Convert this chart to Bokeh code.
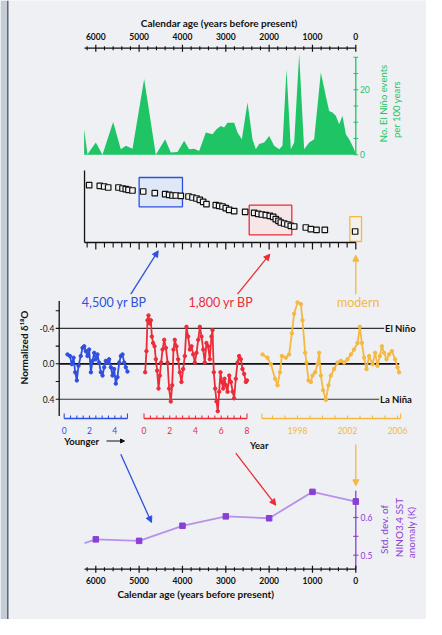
import math
from bokeh.plotting import figure
from bokeh.models import Range1d, Arrow, NormalHead
from bokeh.core.properties import value
from bokeh.embed import file_html
from bokeh.resources import INLINE

# ---------------- data ----------------
# El Nino events per 100 years vs calendar age (yr BP)
enso_age = [6269, 6192, 6000, 5846, 5600, 5423, 5307, 5153, 4884, 4615,
            4400, 4269, 4115, 3961, 3846, 3730, 3615, 3461, 3307, 3215,
            3115, 3038, 2961, 2807, 2730, 2630, 2499, 2384, 2307, 2230,
            2115, 1999, 1884, 1768, 1692, 1599, 1499, 1422, 1307, 1192,
            1076, 961, 807, 692, 615, 538, 461, 384, 307, 230,
            153, 38, 0]
enso_count = [7.9, 0.2, 3.8, 0, 10.1, 1.7, 2.8, 1.9, 23.3, 0,
              4.8, 0.7, 0.9, 4.3, 1.7, 1.9, 1.2, 6.9, 6.3, 7.9,
              8.9, 8.4, 9.9, 9.9, 6.9, 4.8, 16.1, 4.8, 1.7, 3.3,
              3.8, 5.8, 2.8, 1.7, 2.8, 26.3, 1.7, 3.8, 31.0, 1.7,
              3.8, 4.8, 25.3, 18.1, 13.5, 13.0, 12.0, 9.4, 12.0, 6.3,
              4.8, 1.7, 0]

# age model points (age vs depth, arbitrary units)
core_age = [6153, 5908, 5807, 5714, 5477, 5384, 5308, 5246, 5154, 4907,
            4639, 4399, 4307, 4230, 4154, 4039, 3861, 3769, 3677, 3600,
            3522, 3446, 3231, 3153, 3076, 3000, 2922, 2807, 2553, 2345,
            2253, 2169, 2077, 1985, 1907, 1846, 1784, 1731, 1653, 1576,
            1500, 1422, 1154, 1038, 907, 715, 15]
core_depth = [7.96, 7.87, 7.78, 7.64, 7.64, 7.5, 7.4, 7.31, 7.22, 7.08,
              6.85, 6.71, 6.62, 6.53, 6.53, 6.48, 6.39, 6.25, 6.11, 5.93,
              5.65, 5.32, 5.18, 5.09, 5.0, 4.77, 4.54, 4.35, 4.26, 4.12,
              3.98, 3.89, 3.80, 3.70, 3.56, 3.24, 3.01, 2.78, 2.64, 2.5,
              2.31, 2.22, 2.08, 1.85, 1.76, 1.76, 1.53]
win_4500 = (5000, 4000, 9.03, 4.96)
win_1800 = (2460, 1477, 5.18, 1.07)
win_modern = (138, -132, 3.6, 0.14)

# normalized d18O records
blue_t = [0.26, 0.45, 0.60, 0.74, 0.87, 1.0, 1.13, 1.31, 1.45, 1.58,
          1.71, 1.84, 1.97, 2.11, 2.24, 2.37, 2.50, 2.63, 2.76, 2.90,
          3.03, 3.16, 3.29, 3.42, 3.55, 3.69, 3.82, 3.95, 4.08, 4.21,
          4.35, 4.48, 4.61, 4.74, 4.87, 5.0]
blue_v = [-0.106, -0.088, 0.004, -0.069, 0.096, 0.188, 0.022, -0.088, -0.18, -0.198,
          -0.143, -0.088, -0.161, 0.096, -0.033, -0.124, -0.051, -0.106, -0.014, 0.096,
          0.133, 0.04, -0.033, -0.014, -0.051, 0.04, 0.133, 0.059, 0.224, 0.151,
          -0.014, -0.088, -0.106, -0.014, 0.04, 0.088]
red_t = [0.09, 0.19, 0.27, 0.35, 0.45, 0.53, 0.61, 0.71, 0.82, 0.92,
         1.02, 1.13, 1.23, 1.33, 1.44, 1.57, 1.70, 1.83, 1.95, 2.08,
         2.19, 2.29, 2.39, 2.52, 2.65, 2.78, 2.91, 3.04, 3.17, 3.30,
         3.43, 3.56, 3.69, 3.82, 3.95, 4.08, 4.21, 4.34, 4.47, 4.60,
         4.72, 4.85, 4.98, 5.11, 5.24, 5.32, 5.42, 5.53, 5.63, 5.73,
         5.84, 5.94, 6.05, 6.15, 6.25, 6.36, 6.49, 6.62, 6.75, 6.89,
         7.00, 7.13, 7.26, 7.39, 7.52, 7.65, 7.78, 7.91, 8.0]
red_v = [0.096, -0.143, -0.492, -0.547, -0.455, -0.492, -0.308, -0.235, -0.198, -0.051,
         0.077, 0.28, 0.133, -0.014, -0.161, -0.271, -0.18, -0.014, 0.28, 0.426,
         0.243, -0.161, -0.271, -0.198, -0.051, 0.096, 0.206, 0.059, -0.088, -0.418,
         -0.308, -0.161, -0.198, -0.106, -0.014, -0.124, -0.271, -0.418, -0.308, -0.161,
         -0.014, -0.235, -0.198, -0.051, -0.308, -0.381, 0.096, 0.28, 0.426, 0.536,
         0.316, 0.096, 0.206, 0.28, 0.169, 0.243, 0.316, 0.133, 0.206, 0.316,
         0.39, 0.169, -0.014, -0.088, -0.051, 0.059, 0.114, 0.206, 0.188]
orange_t = [1995.2, 1995.6, 1995.87, 1996.21, 1996.4, 1996.59, 1996.75, 1997.07, 1997.33, 1997.55,
            1997.73, 1998.0, 1998.27, 1998.4, 1998.61, 1998.72, 1998.88, 1999.07, 1999.2, 1999.41,
            1999.6, 1999.73, 1999.87, 2000.05, 2000.27, 2000.48, 2000.67, 2000.93, 2001.2, 2001.47,
            2001.73, 2002.0, 2002.27, 2002.53, 2002.8, 2002.99, 2003.15, 2003.33, 2003.52, 2003.73,
            2004.0, 2004.21, 2004.4, 2004.59, 2004.75, 2004.93, 2005.12, 2005.33, 2005.55, 2005.81,
            2006.0, 2006.13]
orange_v = [-0.106, -0.069, 0.004, 0.169, 0.243, 0.096, -0.088, -0.069, -0.106, -0.345,
            -0.565, -0.694, -0.675, -0.492, -0.124, -0.014, 0.188, 0.206, 0.133, 0.096,
            0.004, -0.124, 0.133, 0.298, 0.408, 0.243, 0.133, 0.059, -0.014, -0.033,
            -0.014, -0.051, -0.106, -0.161, -0.235, -0.418, -0.235, -0.069, 0.059, -0.088,
            0.004, -0.124, 0.022, -0.088, -0.198, -0.124, -0.051, -0.106, -0.143, -0.051,
            0.04, 0.096]

# std. dev. of NINO3.4 SST anomaly
sd_age = [6000, 5000, 4000, 3000, 2000, 1000, 0]
sd_val = [0.542, 0.538, 0.578, 0.603, 0.598, 0.668, 0.642]
sd_lead = (6260, 0.532)

age_labels = [6000, 5000, 4000, 3000, 2000, 1000, 0]
age_minor = [a for a in range(6200, -1, -200) if a % 1000]
ens_ticks = [0, 5, 10, 15, 20, 25, 30]
ens_labels = [0, 20]
d18_ticks = [-0.6, -0.4, -0.2, 0.0, 0.2, 0.4]
d18_labels = [-0.4, 0.0, 0.4]
d18_text = ["-0.4", "0.0", "0.4"]
sd_ticks = [0.5, 0.55, 0.6, 0.65]
sd_labels = [0.5, 0.6]
blue_labels = [0, 2, 4]
red_labels = [0, 2, 4, 6, 8]
orange_labels = [1998, 2002, 2006]

# ---------------- styling ----------------
FONT = "Lato"
BG = "#eef0f3"
BLACK = "#111111"
GREEN = "#1fc465"
BLUE = "#2f4fe0"
RED = "#ec2c38"
ORANGE = "#f5b840"
PURPLE = "#8a3fd6"
PURPLE_L = "#b892ea"

W, H = 426, 619
X0, X1, YB, YT = 8, 434, 627, 8

p = figure(width=W, height=H, x_range=Range1d(X0, X1), y_range=Range1d(YB, YT),
           output_backend="svg", toolbar_location=None, min_border=0)
p.axis.visible = False
p.grid.visible = False
p.outline_line_color = None
p.background_fill_color = BG
p.border_fill_color = BG


def rng(v0, p0, v1, p1, lo, hi):
    k = (v1 - v0) / (p1 - p0)
    return Range1d(v0 + (lo - p0) * k, v0 + (hi - p0) * k)


p.extra_x_ranges = {
    "age": rng(6000, 103.3, 0, 363.3, X0, X1),
    "yb": rng(0, 71.7, 4, 122.3, X0, X1),
    "yr": rng(0, 151.5, 8, 254.5, X0, X1),
    "yo": rng(1998, 305, 2006, 405, X0, X1),
}
p.extra_y_ranges = {
    "ens": rng(0, 162.3, 20, 97.3, YB, YT),
    "dep": rng(0, 250, 10, 178, YB, YT),
    "d18": rng(0, 371.3, 0.4, 406.7, YB, YT),
    "sd": rng(0.5, 562.7, 0.6, 525, YB, YT),
}


def _bc(*vals):
    n = max(len(v) if isinstance(v, list) else 1 for v in vals)
    return [v if isinstance(v, list) else [v] * n for v in vals]


def txt(x, y, s, size=8, color=BLACK, align="center", baseline="middle", angle=0.0,
        style="normal", xr="default", yr="default"):
    xs, ys, ss = _bc(x, y, s)
    p.text(x=xs, y=ys, text=ss, text_font=value(FONT), text_font_size=f"{size}px",
           text_color=color, text_align=align, text_baseline=baseline, angle=angle,
           text_font_style=style, x_range_name=xr, y_range_name=yr)


def seg(x0, x1, y0, y1, color=BLACK, w=1.0, xr="default", yr="default"):
    a, b, c, d = _bc(x0, x1, y0, y1)
    p.segment(x0=a, x1=b, y0=c, y1=d, line_color=color, line_width=w,
              x_range_name=xr, y_range_name=yr)


def arrow(x0, y0, x1, y1, color, w=1.3, size=6):
    p.add_layout(Arrow(end=NormalHead(size=size, fill_color=color, line_color=color),
                       x_start=x0, y_start=y0, x_end=x1, y_end=y1,
                       line_color=color, line_width=w))


# left strip of the slide
p.quad(left=[X0], right=[14.6], top=[YT], bottom=[YB], fill_color="#c3ccd7", line_color=None)
seg(15.3, 15.3, YT, YB, color="#4b525b", w=1.3)

# ---------------- panel 1: El Nino events ----------------
p.varea(x=enso_age, y1=[0] * len(enso_age), y2=enso_count, fill_color=GREEN,
        x_range_name="age", y_range_name="ens")
AY = 55.7
seg(6260, 0, AY, AY, w=1.3, xr="age")
seg(age_minor, age_minor, AY - 2, AY + 2, w=1.1, xr="age")
seg(age_labels, age_labels, AY - 3.5, AY + 3.5, w=1.2, xr="age")
txt(age_labels, 43.5, [str(a) for a in age_labels], size=8.5, style="bold", xr="age")
txt(226.7, 30.5, "Calendar age (years before present)", size=10, style="bold")
seg(0, 0, 0, 30, color=GREEN, w=1.3, xr="age", yr="ens")
seg(-55, 55, ens_ticks, ens_ticks, color=GREEN, w=1.1, xr="age", yr="ens")
txt(-95, ens_labels, [str(v) for v in ens_labels], size=8.5, color=GREEN,
    align="left", xr="age", yr="ens")
txt(390.5, 111, "No. El Niño events", size=9.5, color=GREEN, angle=math.pi / 2)
txt(403.5, 117, "per 100 years", size=9.5, color=GREEN, angle=math.pi / 2)

# ---------------- panel 2: age model ----------------
for (l, r, t, b), lc, fc in ((win_4500, BLUE, "#dfe8f6"), (win_1800, RED, "#f6e6e8"),
                             (win_modern, ORANGE, "#f4f1ea")):
    p.quad(left=[l], right=[r], top=[t], bottom=[b], fill_color=fc, line_color=lc,
           line_width=1.3, x_range_name="age", y_range_name="dep")
p.scatter(core_age, core_depth, marker="square", size=5.5, fill_color="#f4f4f4",
          line_color=BLACK, line_width=1.2, x_range_name="age", y_range_name="dep")
SY = 250
seg(6260, 6260, 178, SY, w=1.3, xr="age")
seg(6260, 0, SY, SY, w=1.3, xr="age")
seg(age_minor, age_minor, SY, SY + 5, w=1.1, xr="age")
seg(age_labels, age_labels, SY, SY + 7, w=1.2, xr="age")

arrow(138.3, 301.7, 165.7, 258.3, BLUE)
arrow(245, 301.7, 277.3, 261.7, RED)
arrow(363.3, 301.7, 363.3, 262.7, ORANGE)
txt(121.7, 309.8, "4,500 yr BP", size=12.5, color=BLUE)
txt(228.3, 309.8, "1,800 yr BP", size=12.5, color=RED)
txt(365.7, 309.8, "modern", size=12.5, color=ORANGE)

# ---------------- panel 3: d18O records ----------------
seg(66.7, 391.7, -0.4, -0.4, color="#333333", w=1.1, yr="d18")
seg(66.7, 386.7, 0.4, 0.4, color="#333333", w=1.1, yr="d18")
seg(66.7, 406.7, 0.0, 0.0, color=BLACK, w=1.7, yr="d18")
txt(392.5, -0.4, "El Niño", size=9.5, style="bold", align="left", yr="d18")
txt(387.5, 0.4, "La Niña", size=9.5, style="bold", align="left", yr="d18")

for t, v, c, xr in ((blue_t, blue_v, BLUE, "yb"), (red_t, red_v, RED, "yr"),
                    (orange_t, orange_v, ORANGE, "yo")):
    p.line(t, v, line_color=c, line_width=1.8, x_range_name=xr, y_range_name="d18")
    p.scatter(t, v, marker="circle", size=3.4, fill_color=c, line_color=c,
              x_range_name=xr, y_range_name="d18")

seg(66.7, 66.7, -0.71, 0.59, w=1.3, yr="d18")
seg(63.2, 66.7, d18_ticks, d18_ticks, w=1.1, yr="d18")
txt(62, d18_labels, d18_text, size=8.5, align="right", yr="d18")
txt(31.7, 355, "Normalized δ¹⁸O", size=10, style="bold", angle=math.pi / 2)

TY = 426


def year_axis(lo, hi, ticks, labels, color, xr):
    seg(lo, hi, TY, TY, color=color, w=1.3, xr=xr)
    seg(ticks, ticks, TY - 3, TY, color=color, w=1.1, xr=xr)
    seg([lo, hi], [lo, hi], TY - 5, TY, color=color, w=1.1, xr=xr)
    txt(labels, 437.5, [str(l) for l in labels], size=8.5, color=color, xr=xr)


year_axis(0, 5, [k / 2 for k in range(1, 10)], blue_labels, BLUE, "yb")
year_axis(0, 8, [k / 2 for k in range(1, 16)], red_labels, RED, "yr")
year_axis(1995.15, 2006.25, list(range(1996, 2007)), orange_labels, ORANGE, "yo")
txt(71.7, 448.5, "Younger", size=9.5, style="bold", align="left")
arrow(114, 448.5, 132, 448.5, BLACK, w=1.1, size=4)
txt(266.7, 453, "Year", size=9.5, style="bold")

arrow(128.3, 461.7, 159, 530, BLUE)
arrow(243.3, 460.7, 283.3, 512.7, RED)
arrow(363.3, 452, 363.3, 493.3, ORANGE)

# ---------------- panel 4: NINO3.4 std dev ----------------
p.line([sd_lead[0]] + sd_age, [sd_lead[1]] + sd_val, line_color=PURPLE_L, line_width=1.8,
       x_range_name="age", y_range_name="sd")
p.scatter(sd_age, sd_val, marker="square", size=5.5, fill_color=PURPLE, line_color=PURPLE,
          x_range_name="age", y_range_name="sd")
seg(0, 0, 0.463, 0.671, color=PURPLE, w=1.3, xr="age", yr="sd")
seg(-60, 60, sd_ticks, sd_ticks, color=PURPLE, w=1.1, xr="age", yr="sd")
txt(-110, sd_labels, [str(v) for v in sd_labels], size=8.5, color=PURPLE,
    align="left", xr="age", yr="sd")
txt(391.7, 537, "Std. dev. of", size=10, color=PURPLE, angle=math.pi / 2)
txt(406.0, 535, "NINO3.4 SST", size=10, color=PURPLE, angle=math.pi / 2)
txt(418.0, 540, "anomaly (K)", size=10, color=PURPLE, angle=math.pi / 2)

BY = 576.7
seg(6260, 0, BY, BY, w=1.3, xr="age")
seg(age_minor, age_minor, BY - 2, BY + 2, w=1.1, xr="age")
seg(age_labels, age_labels, BY - 3.5, BY + 3.5, w=1.2, xr="age")
txt(age_labels, 587.5, [str(a) for a in age_labels], size=8.5, style="bold", xr="age")
txt(203.3, 601.7, "Calendar age (years before present)", size=10, style="bold")

open("out.html", "w").write(file_html(p, INLINE))
